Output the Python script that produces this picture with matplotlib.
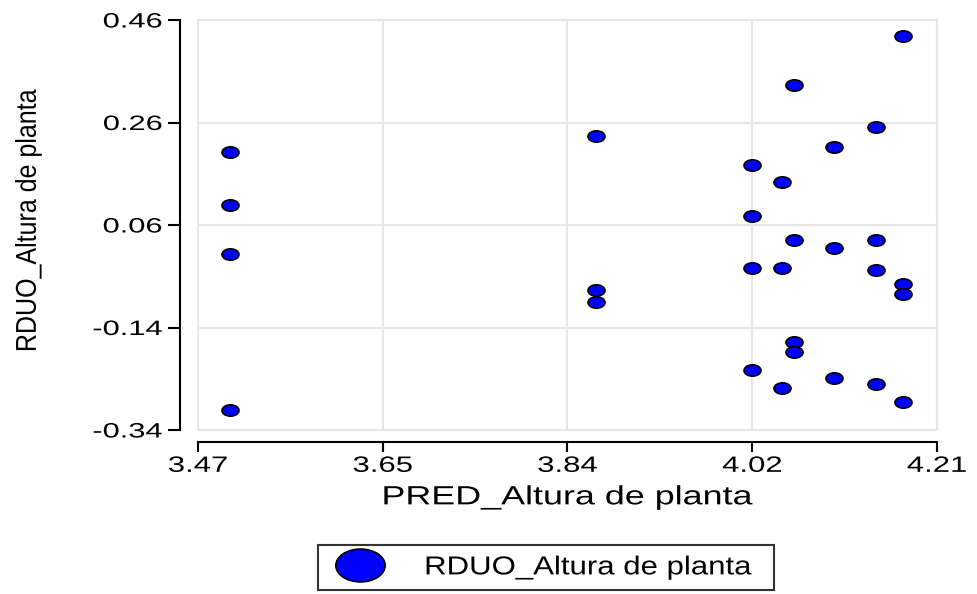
#!/usr/bin/env python3
import matplotlib
matplotlib.use('Agg')
import matplotlib.pyplot as plt
import matplotlib.patheffects as patheffects
from matplotlib.markers import MarkerStyle
from matplotlib.patches import Rectangle
from matplotlib.path import Path
from matplotlib.transforms import Affine2D
import numpy as np

plt.rcParams['font.family'] = ['Liberation Sans', 'DejaVu Sans']

# predicted vs residual values for plant height
pred = [3.502, 3.502, 3.502, 3.502,
        3.869, 3.869, 3.869,
        4.025, 4.025, 4.025, 4.025,
        4.055, 4.055, 4.055,
        4.067, 4.067, 4.067, 4.067,
        4.107, 4.107, 4.107,
        4.149, 4.149, 4.149, 4.149,
        4.176, 4.176, 4.176, 4.176]
resid = [0.202, 0.100, 0.003, -0.301,
         0.233, -0.067, -0.091,
         0.178, 0.077, -0.024, -0.223,
         0.143, -0.024, -0.258,
         0.334, 0.030, -0.169, -0.188,
         0.213, 0.015, -0.239,
         0.252, 0.030, -0.028, -0.251,
         0.428, -0.055, -0.075, -0.286]

x_ticks = [3.47, 3.655, 3.84, 4.025, 4.21]
x_tick_labels = ['3.47', '3.65', '3.84', '4.02', '4.21']
y_ticks = [-0.34, -0.14, 0.06, 0.26, 0.46]
y_tick_labels = ['-0.34', '-0.14', '0.06', '0.26', '0.46']

x_label = 'PRED_Altura de planta'
y_label = 'RDUO_Altura de planta'


class StretchX(patheffects.AbstractPathEffect):
    """Widen glyphs horizontally around the text's alignment point."""

    def __init__(self, sx, anchor='center'):
        super().__init__()
        self.sx = sx
        self.anchor = anchor

    def draw_path(self, renderer, gc, tpath, affine, rgbFace=None):
        bb = tpath.get_extents(affine)
        x0 = {'left': bb.x0, 'center': 0.5 * (bb.x0 + bb.x1), 'right': bb.x1}[self.anchor]
        stretch = Affine2D().translate(-x0, 0).scale(self.sx, 1.0).translate(x0, 0)
        renderer.draw_path(gc, tpath, affine + stretch, rgbFace)


# flat ellipse marker
ellipse = Path(Affine2D().scale(1.5, 1.0).transform(Path.unit_circle().vertices),
               Path.unit_circle().codes)
marker = MarkerStyle(ellipse)

fig = plt.figure(figsize=(9.77, 5.94), dpi=100)
ax = fig.add_axes([198 / 977, 164 / 594, 739 / 977, 410 / 594])

ax.scatter(pred, resid, s=150, marker=marker, facecolor='#0000ff',
           edgecolor='black', linewidth=1.2, zorder=3, label=y_label, clip_on=False)

ax.set_xlim(3.47, 4.21)
ax.set_ylim(-0.34, 0.46)
ax.set_xticks(x_ticks, x_tick_labels)
ax.set_yticks(y_ticks, y_tick_labels)

ax.grid(True, color='#e6e6e6', linewidth=1.5, zorder=0)
ax.set_axisbelow(True)
ax.add_patch(Rectangle((0, 0), 1, 1, transform=ax.transAxes, fill=False,
                       edgecolor='#e6e6e6', linewidth=1.5, zorder=1, clip_on=False))

for side in ['top', 'right']:
    ax.spines[side].set_visible(False)
ax.spines['left'].set_position(('outward', 13))
ax.spines['bottom'].set_position(('outward', 8.6))
for side in ['left', 'bottom']:
    ax.spines[side].set_linewidth(1.5)

ax.tick_params(axis='y', length=8.6, width=1.5, pad=4, labelsize=15)
ax.tick_params(axis='x', length=7, width=1.5, pad=3, labelsize=16)

for lbl in ax.get_yticklabels():
    lbl.set_path_effects([StretchX(1.48, 'right')])
for lbl in ax.get_xticklabels():
    lbl.set_path_effects([StretchX(1.40, 'center')])

ax.set_xlabel(x_label, fontsize=19, path_effects=[StretchX(1.36, 'center')])
ax.xaxis.set_label_coords(0.5, -0.135)
ax.set_ylabel(y_label, fontsize=18, path_effects=[StretchX(1.15, 'center')])
ax.yaxis.set_label_coords(-0.214, 0.51)

leg = ax.legend(loc='upper left', bbox_to_anchor=(318 / 977, 0, 456 / 977, 49 / 594),
                bbox_transform=fig.transFigure, mode='expand', borderaxespad=0,
                fontsize=18.7, frameon=True, fancybox=False, scatterpoints=1,
                scatteryoffsets=[0.5], markerscale=2.9, handlelength=2.4,
                handletextpad=1.3, borderpad=0.4)
leg.get_frame().set_edgecolor('black')
leg.get_frame().set_linewidth(1.5)
for t in leg.get_texts():
    t.set_path_effects([StretchX(1.2, 'left')])

fig.savefig('out.png', dpi=100)
